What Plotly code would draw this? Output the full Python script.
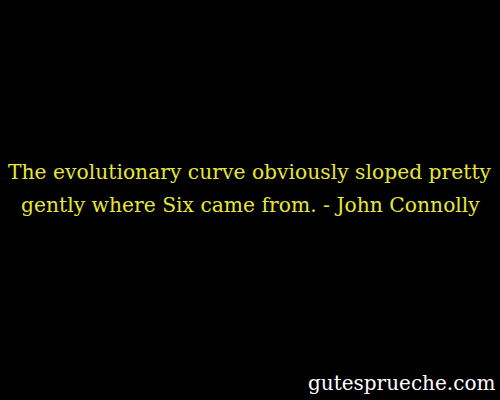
import plotly.graph_objects as go

# quote text, one entry per line
quote_lines = ["The evolutionary curve obviously sloped pretty",
               "gently where Six came from. - John Connolly"]
site_name = "gutesprueche.com"

line_y = [0.57, 0.487]

fig = go.Figure()

for txt, yy in zip(quote_lines, line_y):
    fig.add_annotation(text=txt, x=0.5, y=yy,
                       xref="paper", yref="paper", xanchor="center", yanchor="middle",
                       showarrow=False,
                       font=dict(family="DejaVu Serif", size=20.3, color="#e6e63c"))
fig.add_annotation(text=site_name, x=0.994, y=0.042,
                   xref="paper", yref="paper", xanchor="right", yanchor="middle",
                   showarrow=False,
                   font=dict(family="DejaVu Serif", size=20, color="#ffffff"))

fig.update_xaxes(visible=False, range=[0, 1])
fig.update_yaxes(visible=False, range=[0, 1])
fig.update_layout(width=500, height=400, margin=dict(l=0, r=0, t=0, b=0),
                  paper_bgcolor="black", plot_bgcolor="black", showlegend=False)
fig.write_html("out.html", config={"displayModeBar": False},
               post_script="document.body.style.margin='0';document.body.style.background='black';")
